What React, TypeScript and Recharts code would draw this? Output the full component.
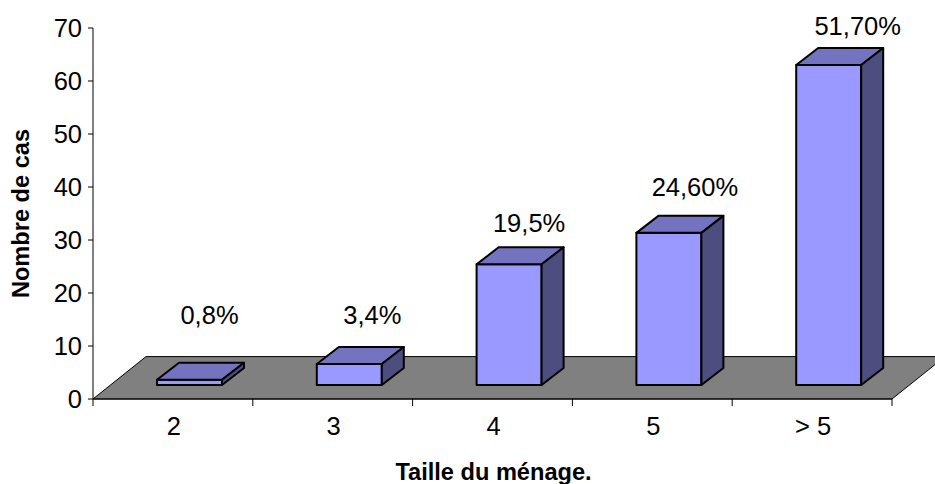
import React from "react";
import { BarChart, Bar, XAxis, YAxis, ReferenceArea, LabelList } from "recharts";

const categories = ["2", "3", "4", "5", "> 5"];
const cases = [1, 4, 23, 29, 61];
const shares = ["0,8%", "3,4%", "19,5%", "24,60%", "51,70%"];
const yTicks = [0, 10, 20, 30, 40, 50, 60, 70];

const data = categories.map((c, i) => ({ category: c, cases: cases[i], share: shares[i] }));

const FONT = "'Liberation Sans', Arial, sans-serif";
const SHIFT_X = 17;
const SHIFT_Y = -14;
const DEPTH_X = 22;
const DEPTH_Y = -17;
const BAR_SCALE = 0.99;
const labelLift = [55, 39, 30, 34, 26];
const labelShift = [37, 40, 37, 43, 46];

function Box(props: any) {
  const { x, y, width, height } = props;
  const l = x + SHIFT_X;
  const b = y + height + SHIFT_Y;
  const h = height * BAR_SCALE;
  const t = b - h;
  const r = l + width;
  const common = { stroke: "#000", strokeWidth: 2, strokeLinejoin: "round" as const };
  return (
    <g>
      <rect x={l} y={t} width={width} height={h} fill="#9999FF" {...common} />
      <path d={`M${l},${t} L${l + DEPTH_X},${t + DEPTH_Y} L${r + DEPTH_X},${t + DEPTH_Y} L${r},${t} Z`} fill="#7373BF" {...common} />
      <path d={`M${r},${t} L${r + DEPTH_X},${t + DEPTH_Y} L${r + DEPTH_X},${b + DEPTH_Y} L${r},${b} Z`} fill="#4D4D80" {...common} />
    </g>
  );
}

function Floor(props: any) {
  const { x, y, width, height } = props;
  const skew = height * 1.25;
  return (
    <path
      d={`M${x},${y + height} L${x + skew},${y} L${x + width + skew},${y} L${x + width},${y + height} Z`}
      fill="#808080"
      stroke="#000"
      strokeWidth={1}
    />
  );
}

function XTick(props: any) {
  const { x, y, payload, index } = props;
  const half = 79.9;
  const axisY = y - 8;
  return (
    <g>
      <line x1={x - half} x2={x - half} y1={axisY} y2={axisY + 7} stroke="#000" />
      {index === categories.length - 1 && (
        <line x1={x + half} x2={x + half} y1={axisY} y2={axisY + 7} stroke="#000" />
      )}
      <text x={x + 1} y={axisY + 36} textAnchor="middle" fontFamily={FONT} fontSize={25.5} fill="#000">
        {payload.value}
      </text>
    </g>
  );
}

function ShareLabel(props: any) {
  const { x, y, width, index, value } = props;
  return (
    <text
      x={x + width / 2 + labelShift[index]}
      y={y + SHIFT_Y + DEPTH_Y - labelLift[index] + 16}
      textAnchor="middle"
      fontFamily={FONT}
      fontSize={25.5}
      fill="#000"
    >
      {value}
    </text>
  );
}

export default function App() {
  return (
    <div style={{ position: "absolute", left: 0, top: 0, width: 935, height: 484, background: "#fff", overflow: "hidden" }}>
      <BarChart
        width={935}
        height={484}
        data={data}
        barSize={65}
        margin={{ top: 28, right: 43, bottom: 0, left: 0 }}
      >
        <ReferenceArea y1={0} y2={8} shape={<Floor />} />
        <XAxis
          dataKey="category"
          height={85}
          interval={0}
          stroke="#000"
          tickLine={false}
          tick={<XTick />}
          label={{
            value: "Taille du ménage.",
            position: "insideBottom",
            offset: 4,
            dx: 1,
            fontFamily: FONT,
            fontSize: 23.6,
            fontWeight: "bold",
            fill: "#000",
          }}
        />
        <YAxis
          width={93}
          domain={[0, 70]}
          ticks={yTicks}
          interval={0}
          stroke="#000"
          tickSize={5}
          tickMargin={6}
          tick={{ fontFamily: FONT, fontSize: 25.5, fill: "#000" }}
          label={{
            value: "Nombre de cas",
            angle: -90,
            position: "insideLeft",
            offset: 21,
            fontFamily: FONT,
            fontSize: 23.6,
            fontWeight: "bold",
            fill: "#000",
            style: { textAnchor: "middle" },
          }}
        />
        <Bar dataKey="cases" isAnimationActive={false} shape={<Box />}>
          <LabelList dataKey="share" content={<ShareLabel />} />
        </Bar>
      </BarChart>
    </div>
  );
}
